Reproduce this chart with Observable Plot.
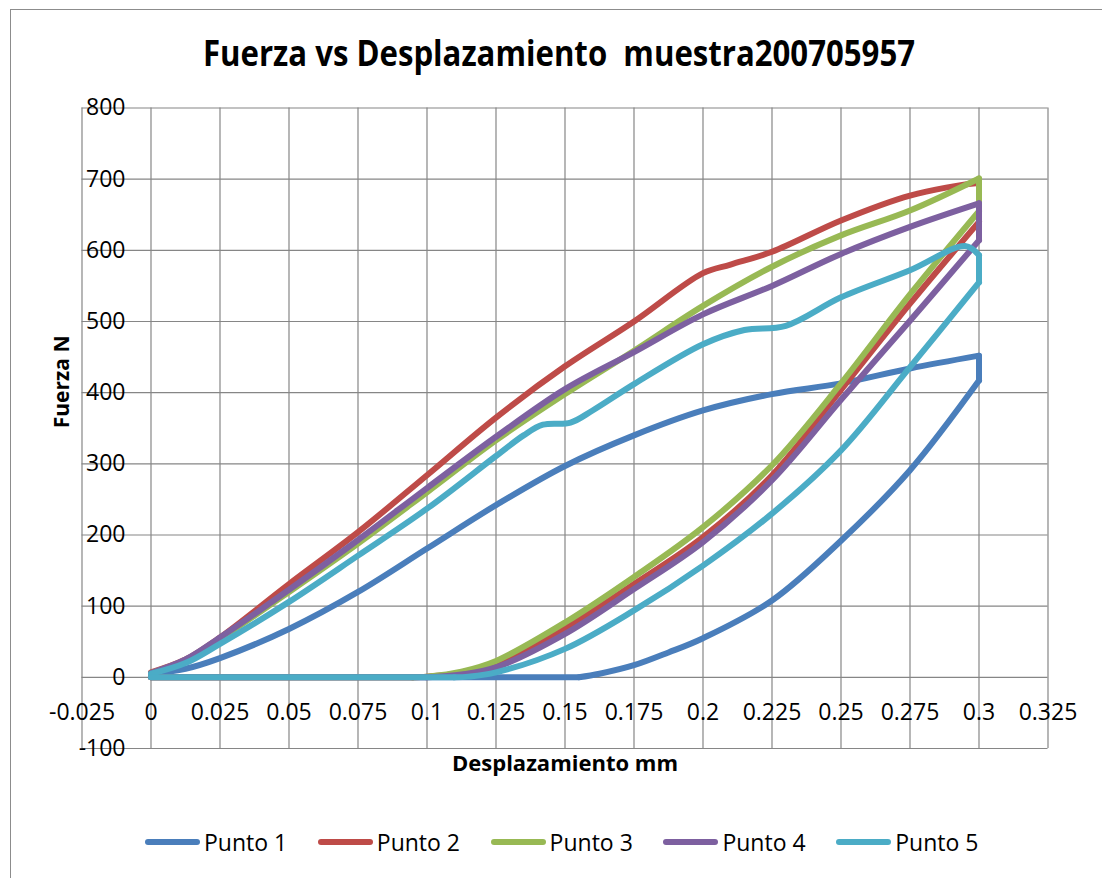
<!DOCTYPE html>
<html>
<head>
<meta charset="utf-8">
<script src="https://cdn.jsdelivr.net/npm/d3@7"></script>
<script src="https://cdn.jsdelivr.net/npm/@observablehq/plot@0.6"></script>
<style>
  body { margin: 0; background: #fff; }
  #chart { position: relative; width: 1102px; height: 878px; overflow: hidden; font-family: "Open Sans", sans-serif; background: #fff; }
  #frame { position: absolute; left: 10px; top: 9px; width: 1200px; height: 1000px; border: 1px solid #8c8c8c; box-sizing: border-box; }
  #title { position: absolute; left: 0; top: 0; width: 1102px; height: 80px; }
  #title span { position: absolute; left: 559px; top: 52px; white-space: nowrap; font-family: "Liberation Sans Narrow", "Open Sans", sans-serif; font-weight: bold; font-size: 36px; color: #000; transform-origin: 0 0; }
  #plotwrap { position: absolute; left: 0; top: 80px; }
  #legend { position: absolute; left: 145px; top: 827px; display: flex; }
  .item { width: 172.8px; display: flex; align-items: center; height: 30px; }
  .sw { width: 55px; height: 6px; border-radius: 3px; margin-right: 4px; }
  .lab { font-size: 23px; color: #000; font-family: "Open Sans", sans-serif; }
</style>
</head>
<body>
<div id="chart">
  <div id="frame"></div>
  <div id="title"><span id="ttext">Fuerza vs Desplazamiento&nbsp;&nbsp;muestra200705957</span></div>
  <div id="plotwrap"></div>
  <div id="legend"></div>
</div>
<script>
// ---- data ----
const seriesNames = ["Punto 1", "Punto 2", "Punto 3", "Punto 4", "Punto 5"];
const seriesColors = ["#4A7EBB", "#BE4B48", "#98B954", "#7D60A0", "#4BACC6"];

const xTicks = [-0.025, 0, 0.025, 0.05, 0.075, 0.1, 0.125, 0.15, 0.175, 0.2, 0.225, 0.25, 0.275, 0.3, 0.325];
const xTickLabels = ["-0.025", "0", "0.025", "0.05", "0.075", "0.1", "0.125", "0.15", "0.175", "0.2", "0.225", "0.25", "0.275", "0.3", "0.325"];
const yTicks = [-100, 0, 100, 200, 300, 400, 500, 600, 700, 800];

// Punto 1
const punto1X = [0, 0.0125, 0.025, 0.05, 0.075, 0.1, 0.125, 0.15, 0.175, 0.2, 0.225, 0.25, 0.275, 0.3,
                 0.3, 0.275, 0.25, 0.225, 0.2, 0.1875, 0.175, 0.1625, 0.155, 0];
const punto1F = [5, 12, 27, 68, 120, 181, 242, 297, 340, 375, 398, 413, 434, 452,
                 417, 291, 192, 108, 55, 35, 17, 5, 0, 0];
// Punto 2
const punto2X = [0, 0.0125, 0.025, 0.05, 0.075, 0.1, 0.125, 0.15, 0.175, 0.2, 0.21, 0.225, 0.25, 0.275, 0.298, 0.3,
                 0.3, 0.275, 0.25, 0.225, 0.2, 0.175, 0.15, 0.125, 0.1125, 0.1, 0.095, 0];
const punto2F = [7, 25, 56, 131, 204, 284, 365, 437, 500, 568, 580, 598, 642, 677, 694, 694,
                 640, 525, 404, 284, 197, 131, 69, 19, 6, 1, 0, 0];
// Punto 3
const punto3X = [0, 0.0125, 0.025, 0.05, 0.075, 0.1, 0.125, 0.15, 0.175, 0.2, 0.225, 0.25, 0.275, 0.3,
                 0.3, 0.275, 0.25, 0.225, 0.2, 0.175, 0.15, 0.125, 0.1125, 0.1, 0.095, 0];
const punto3F = [6, 24, 54, 120, 188, 260, 333, 398, 459, 522, 577, 621, 656, 701,
                 655, 538, 413, 298, 211, 141, 77, 23, 8, 1, 0, 0];
// Punto 4
const punto4X = [0, 0.0125, 0.025, 0.05, 0.075, 0.1, 0.125, 0.15, 0.175, 0.2, 0.225, 0.25, 0.275, 0.3,
                 0.3, 0.275, 0.25, 0.225, 0.2, 0.175, 0.15, 0.125, 0.1125, 0.1, 0];
const punto4F = [6, 25, 56, 123, 193, 266, 338, 405, 457, 510, 550, 595, 633, 666,
                 614, 501, 390, 277, 190, 124, 61, 14, 4, 0, 0];
// Punto 5
const punto5X = [0, 0.0125, 0.025, 0.05, 0.075, 0.1, 0.125, 0.135, 0.142, 0.152, 0.16, 0.175, 0.2, 0.215, 0.23, 0.25, 0.275, 0.295, 0.3,
                 0.3, 0.275, 0.25, 0.225, 0.2, 0.175, 0.15, 0.125, 0.115, 0.11, 0];
const punto5F = [5, 20, 47, 106, 171, 237, 311, 340, 355, 358, 375, 412, 468, 488, 494, 534, 572, 606, 593,
                 555, 436, 319, 230, 157, 94, 40, 7, 1, 0, 0];

const seriesX = [punto1X, punto2X, punto3X, punto4X, punto5X];
const seriesF = [punto1F, punto2F, punto3F, punto4F, punto5F];

// ---- build tables: split each loop into loading / drop / unloading / zero-return pieces ----
const curveMarks = [];
seriesNames.forEach((name, s) => {
  const X = seriesX[s], F = seriesF[s];
  const xmax = Math.max(...X);
  const peak = X.indexOf(xmax);
  const dropEnd = X.lastIndexOf(xmax);
  let zeroStart = dropEnd;
  while (zeroStart < F.length - 1 && F[zeroStart] !== 0) zeroStart++;
  const pts = X.map((x, i) => ({serie: name, x, f: F[i], i}));
  const smooth = [
    ...pts.slice(0, peak + 1).map(d => ({...d, seg: "load"})),
    ...pts.slice(dropEnd, zeroStart + 1).map(d => ({...d, seg: "unload"}))
  ];
  const straight = [
    ...pts.slice(peak, dropEnd + 1).map(d => ({...d, seg: "drop"})),
    ...pts.slice(zeroStart).map(d => ({...d, seg: "zero"}))
  ];
  curveMarks.push(
    Plot.line(smooth, {x: "x", y: "f", z: "seg", stroke: d => name, strokeWidth: 6, curve: "catmull-rom",
      strokeLinejoin: "round", strokeLinecap: "round"}),
    Plot.line(straight, {x: "x", y: "f", z: "seg", stroke: d => name, strokeWidth: 6, curve: "linear",
      strokeLinejoin: "round", strokeLinecap: "round"})
  );
});

const chart = Plot.plot({
  width: 1102,
  height: 720,
  marginLeft: 81.5,
  marginRight: 54.5,
  marginTop: 27.5,
  marginBottom: 52,
  style: {fontFamily: "'Open Sans', sans-serif", fontSize: "23px", color: "#000", background: "transparent"},
  x: {domain: [-0.025, 0.325], axis: null},
  y: {domain: [-100, 800], axis: null},
  color: {domain: seriesNames, range: seriesColors},
  marks: [
    Plot.gridX(xTicks, {stroke: "#868686", strokeOpacity: 1, strokeWidth: 1.2}),
    Plot.gridY(yTicks, {stroke: "#868686", strokeOpacity: 1, strokeWidth: 1.2}),
    ...curveMarks,
    Plot.text(yTicks, {y: d => d, text: d => String(d), frameAnchor: "left", textAnchor: "end", dx: 43.5, fontSize: 23, fill: "#000"}),
    Plot.text(xTicks, {x: d => d, y: d => 0, text: (d, i) => xTickLabels[i], dy: 35, fontSize: 23, fill: "#000"}),
    Plot.text(["Desplazamiento mm"], {frameAnchor: "bottom", dy: 22, fontSize: 22, fontWeight: "bold", fill: "#000"}),
    Plot.text(["Fuerza N"], {frameAnchor: "left", rotate: -90, dx: -20, fontSize: 21, fontWeight: "bold", fill: "#000"})
  ]
});
document.getElementById("plotwrap").appendChild(chart);

// ---- legend ----
const legend = document.getElementById("legend");
seriesNames.forEach((name, i) => {
  const item = document.createElement("div");
  item.className = "item";
  const sw = document.createElement("div");
  sw.className = "sw";
  sw.style.background = seriesColors[i];
  const lab = document.createElement("span");
  lab.className = "lab";
  lab.textContent = name;
  item.appendChild(sw);
  item.appendChild(lab);
  legend.appendChild(item);
});

// ---- title fit ----
const t = document.getElementById("ttext");
const r = t.getBoundingClientRect();
const sx = 712 / r.width;
t.style.transform = `scaleX(${sx}) translate(-50%, -50%)`;
</script>
</body>
</html>
